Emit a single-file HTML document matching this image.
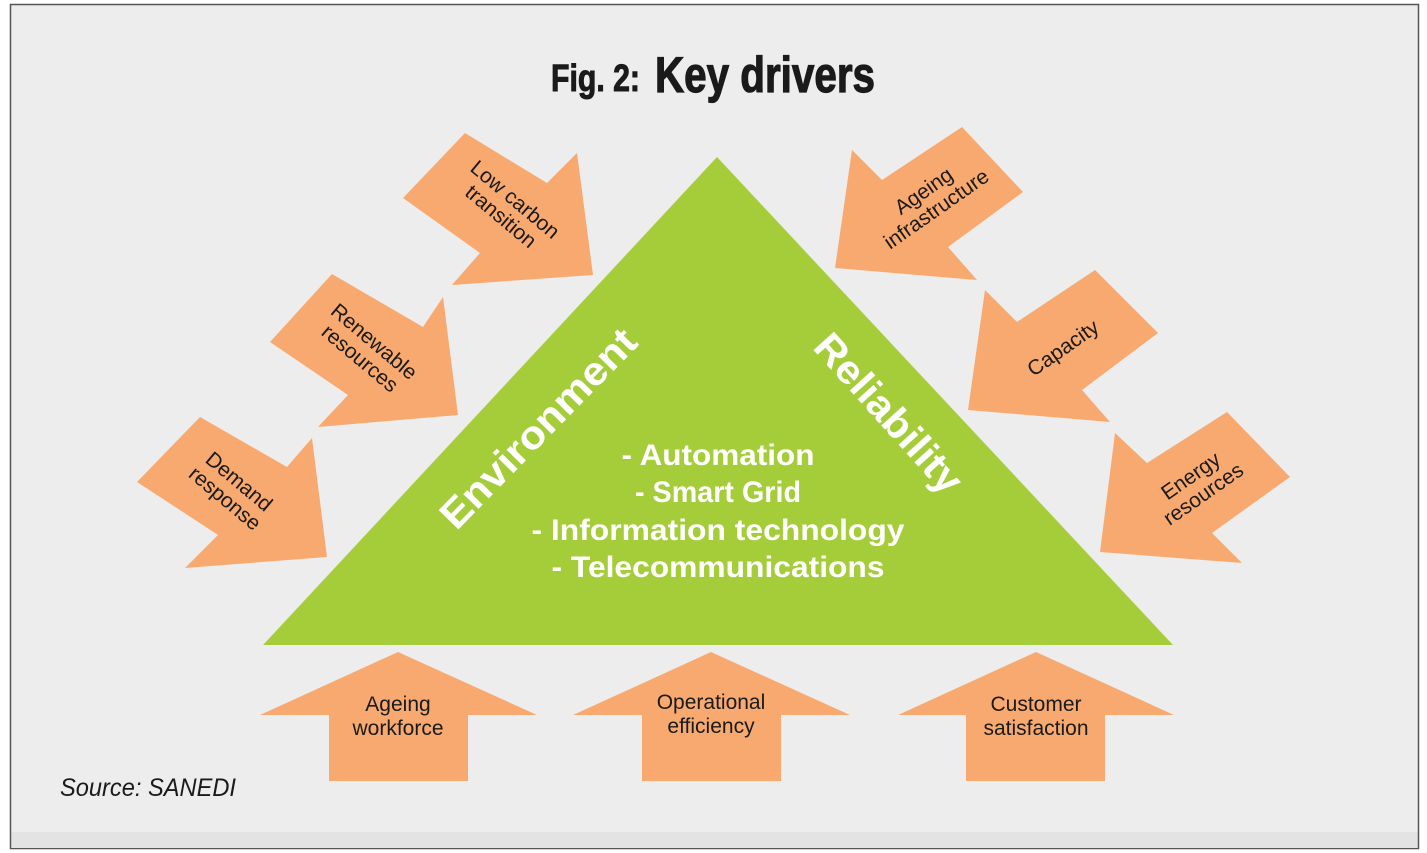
<!DOCTYPE html>
<html><head><meta charset="utf-8"><style>
html,body{margin:0;padding:0;background:#fff;}
svg{display:block;}
</style></head><body>
<svg width="1427" height="853" viewBox="0 0 1427 853" xmlns="http://www.w3.org/2000/svg" font-family="Liberation Sans, Arial, sans-serif">
<rect x="0" y="0" width="1427" height="853" fill="#ffffff"/>
<rect x="10.5" y="4.5" width="1408" height="844" fill="#ededed" stroke="#555" stroke-width="1.5"/>
<rect x="11.5" y="832" width="1406" height="16" fill="#e3e3e3"/>

<text x="551" y="91" font-size="38" font-weight="bold" fill="#1a1a1a" stroke="#1a1a1a" stroke-width="1" textLength="89" lengthAdjust="spacingAndGlyphs">Fig. 2:</text>
<text x="655" y="92" font-size="50" font-weight="bold" fill="#1a1a1a" stroke="#1a1a1a" stroke-width="1.2" textLength="220" lengthAdjust="spacingAndGlyphs">Key drivers</text>

<polygon points="717,157 263,645 1173,645" fill="#a5cd39"/>

<g fill="#f8a96f">
<polygon points="403,198 465,133 547,183 577,153 593,275 452,285 480,253"/>
<polygon points="270,342 332,274 423,327 443,297 458,415 318,427 348,395"/>
<polygon points="137,482 200,417 287,467 312,438 327,557 185,568 218,535"/>
<polygon points="962,127 1023,192 948,247 977,280 835,268 852,150 882,180"/>
<polygon points="1095,270 1158,333 1082,390 1110,422 968,410 985,290 1017,322"/>
<polygon points="1227,412 1290,477 1212,533 1242,563 1100,552 1115,433 1147,463"/>
<polygon points="398,652 537,715 468,715 468,781 329,781 329,715 260,715"/>
<polygon points="711,652 850,715 781,715 781,781 642,781 642,715 573,715"/>
<polygon points="1036,652 1174,715 1105,715 1105,781 966,781 966,715 898,715"/>
</g>

<g font-size="21" fill="#1a1a1a" text-anchor="middle">
<g transform="translate(508,208) rotate(40)"><text y="-4">Low carbon</text><text y="18">transition</text></g>
<g transform="translate(367,350) rotate(40)"><text y="-4">Renewable</text><text y="18">resources</text></g>
<g transform="translate(232,490) rotate(40)"><text y="-4">Demand</text><text y="18">response</text></g>
<g transform="translate(930,200) rotate(-35)"><text y="-4">Ageing</text><text y="18">infrastructure</text></g>
<g transform="translate(1063,348) rotate(-35)"><text y="7">Capacity</text></g>
<g transform="translate(1197,485) rotate(-35)"><text y="-4">Energy</text><text y="18">resources</text></g>
</g>
<g font-size="21" fill="#1a1a1a" text-anchor="middle">
<text x="398" y="711">Ageing</text><text x="398" y="735">workforce</text>
<text x="711" y="709">Operational</text><text x="711" y="733">efficiency</text>
<text x="1036" y="711">Customer</text><text x="1036" y="735">satisfaction</text>
</g>

<g fill="#ffffff" font-weight="bold" text-anchor="middle">
<g transform="translate(538,428) rotate(-45.6)"><text y="14" font-size="40" textLength="262" lengthAdjust="spacingAndGlyphs">Environment</text></g>
<g transform="translate(889,413) rotate(48)"><text y="14" font-size="40" textLength="200" lengthAdjust="spacingAndGlyphs">Reliability</text></g>
<text x="718" y="465" font-size="30" textLength="193" lengthAdjust="spacingAndGlyphs">- Automation</text>
<text x="718" y="502" font-size="30" textLength="166" lengthAdjust="spacingAndGlyphs">- Smart Grid</text>
<text x="718" y="540" font-size="30" textLength="373" lengthAdjust="spacingAndGlyphs">- Information technology</text>
<text x="718" y="577" font-size="30" textLength="333" lengthAdjust="spacingAndGlyphs">- Telecommunications</text>
</g>

<text x="60" y="796" font-size="25" font-style="italic" fill="#1a1a1a" textLength="176" lengthAdjust="spacingAndGlyphs">Source: SANEDI</text>
</svg>
</body></html>
